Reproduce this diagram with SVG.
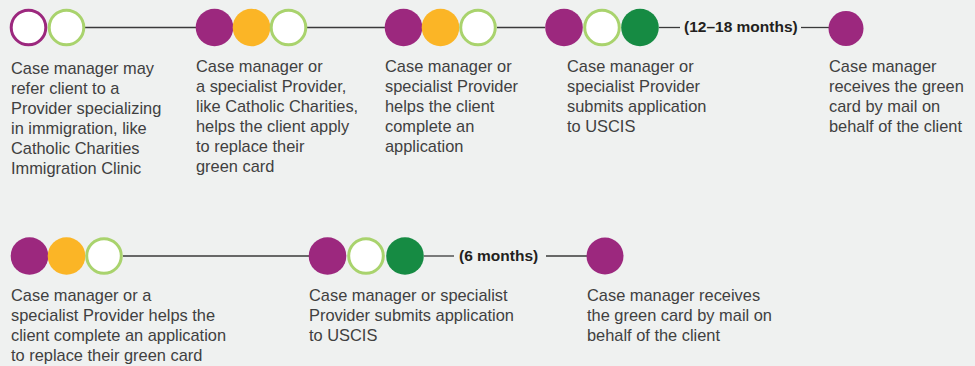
<svg xmlns="http://www.w3.org/2000/svg" width="975" height="366" viewBox="0 0 975 366">
<style>
.t{font-family:"Liberation Sans",Arial,sans-serif;font-size:16.4px;fill:#404040}
.b{font-family:"Liberation Sans",Arial,sans-serif;font-size:15.5px;font-weight:bold;fill:#231f20}
.p{fill:#9c287e}
.o{fill:#fbb526}
.g{fill:#168b43}
.w{fill:#ffffff;stroke:#a9d36d;stroke-width:3}
.wp{fill:#ffffff;stroke:#9c287e;stroke-width:3}
.ln{stroke:#3a3a3a;stroke-width:1.3;fill:none}
</style>
<rect width="975" height="366" fill="#eff1f0"/>
<g id="connectors">
<line class="ln" x1="85" y1="27.5" x2="196" y2="27.5"/>
<line class="ln" x1="307" y1="27.5" x2="385" y2="27.5"/>
<line class="ln" x1="497" y1="27.5" x2="545" y2="27.5"/>
<line class="ln" x1="659" y1="27.5" x2="680" y2="27.5"/>
<line class="ln" x1="801" y1="27.5" x2="829" y2="27.5"/>
<line class="ln" x1="123" y1="256" x2="309" y2="256"/>
<line class="ln" x1="424" y1="256" x2="454" y2="256"/>
<line class="ln" x1="546" y1="256" x2="587" y2="256"/>
</g>
<g id="label-12-18">
<text class="b" x="684" y="32">(12–18 months)</text>
</g>
<g id="label-6">
<text class="b" x="459" y="260.5">(6 months)</text>
</g>
<g id="step1">
<circle class="wp" cx="28.5" cy="27.5" r="17.3"/>
<circle class="w" cx="66.5" cy="27.5" r="17.3"/>
<text class="t" x="11" y="74"><tspan x="11">Case manager may</tspan><tspan x="11" dy="20">refer client to a</tspan><tspan x="11" dy="20">Provider specializing</tspan><tspan x="11" dy="20">in immigration, like</tspan><tspan x="11" dy="20">Catholic Charities</tspan><tspan x="11" dy="20">Immigration Clinic</tspan></text>
</g>
<g id="step2">
<circle class="p" cx="214.5" cy="27.5" r="18.8"/>
<circle class="o" cx="251.5" cy="27.5" r="18.8"/>
<circle class="w" cx="288.5" cy="27.5" r="17.3"/>
<text class="t" x="196" y="71.5"><tspan x="196">Case manager or</tspan><tspan x="196" dy="20">a specialist Provider,</tspan><tspan x="196" dy="20">like Catholic Charities,</tspan><tspan x="196" dy="20">helps the client apply</tspan><tspan x="196" dy="20">to replace their</tspan><tspan x="196" dy="20">green card</tspan></text>
</g>
<g id="step3">
<circle class="p" cx="403.5" cy="27.5" r="18.8"/>
<circle class="o" cx="440.5" cy="27.5" r="18.8"/>
<circle class="w" cx="478" cy="27.5" r="17.3"/>
<text class="t" x="385" y="71.5"><tspan x="385">Case manager or</tspan><tspan x="385" dy="20">specialist Provider</tspan><tspan x="385" dy="20">helps the client</tspan><tspan x="385" dy="20">complete an</tspan><tspan x="385" dy="20">application</tspan></text>
</g>
<g id="step4">
<circle class="p" cx="564" cy="27.5" r="18.8"/>
<circle class="w" cx="602" cy="27.5" r="17.3"/>
<circle class="g" cx="640" cy="27.5" r="18.8"/>
<text class="t" x="567" y="71.5"><tspan x="567">Case manager or</tspan><tspan x="567" dy="20">specialist Provider</tspan><tspan x="567" dy="20">submits application</tspan><tspan x="567" dy="20">to USCIS</tspan></text>
</g>
<g id="step5">
<circle class="p" cx="846" cy="28.5" r="17.5"/>
<text class="t" x="829" y="71.5"><tspan x="829">Case manager</tspan><tspan x="829" dy="20">receives the green</tspan><tspan x="829" dy="20">card by mail on</tspan><tspan x="829" dy="20">behalf of the client</tspan></text>
</g>
<g id="step6">
<circle class="p" cx="29.5" cy="256" r="18.8"/>
<circle class="o" cx="66.5" cy="256" r="18.8"/>
<circle class="w" cx="104" cy="256" r="17.3"/>
<text class="t" x="11" y="301"><tspan x="11">Case manager or a</tspan><tspan x="11" dy="20">specialist Provider helps the</tspan><tspan x="11" dy="20">client complete an application</tspan><tspan x="11" dy="20">to replace their green card</tspan></text>
</g>
<g id="step7">
<circle class="p" cx="327.5" cy="256" r="18.8"/>
<circle class="w" cx="366" cy="256" r="17.3"/>
<circle class="g" cx="405" cy="256" r="18.8"/>
<text class="t" x="309" y="301"><tspan x="309">Case manager or specialist</tspan><tspan x="309" dy="20">Provider submits application</tspan><tspan x="309" dy="20">to USCIS</tspan></text>
</g>
<g id="step8">
<circle class="p" cx="605" cy="256" r="18.5"/>
<text class="t" x="587" y="301"><tspan x="587">Case manager receives</tspan><tspan x="587" dy="20">the green card by mail on</tspan><tspan x="587" dy="20">behalf of the client</tspan></text>
</g>
</svg>
